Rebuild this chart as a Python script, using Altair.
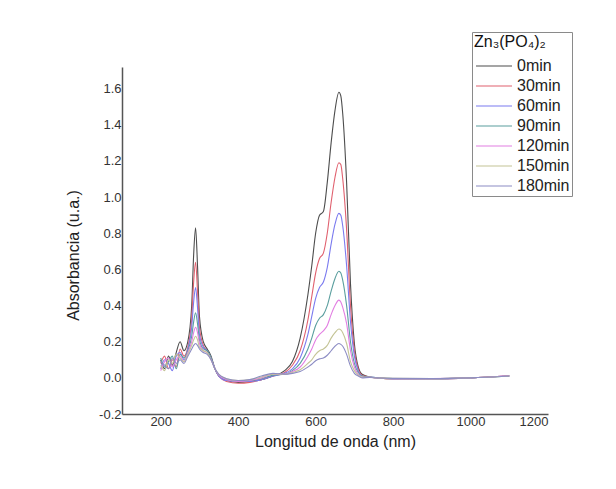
import altair as alt
import pandas as pd

wavelength = [200, 210, 220, 230, 240, 250, 260, 270, 280, 285, 290, 295, 300,
              310, 320, 330, 340, 350, 370, 400, 430, 460, 490,
              520, 540, 560, 580, 590, 600, 610, 620, 630, 640, 650, 660, 665,
              670, 680, 690, 700, 710, 720,
              740, 760, 800, 900, 1000, 1100]

series_names = ["0min", "30min", "60min", "90min", "120min", "150min", "180min"]

abs_0 = [0.10, 0.05, 0.12, 0.07, 0.14, 0.20, 0.15, 0.20, 0.40, 0.68, 0.83, 0.62, 0.34,
         0.20, 0.16, 0.12, 0.05, 0.01, -0.015, -0.025, -0.02, -0.01, 0.01,
         0.04, 0.09, 0.22, 0.46, 0.62, 0.80, 0.90, 0.92, 1.08, 1.30, 1.48, 1.58, 1.56,
         1.46, 1.08, 0.52, 0.19, 0.06, 0.02,
         0.005, 0.0, -0.005, -0.005, 0.0, 0.01]
abs_30 = [0.08, 0.12, 0.05, 0.10, 0.06, 0.16, 0.12, 0.17, 0.33, 0.53, 0.64, 0.48, 0.28,
          0.18, 0.15, 0.11, 0.05, 0.01, -0.02, -0.03, -0.025, -0.01, 0.01,
          0.03, 0.07, 0.15, 0.32, 0.45, 0.58, 0.66, 0.69, 0.80, 0.97, 1.11, 1.19, 1.18,
          1.10, 0.82, 0.40, 0.15, 0.05, 0.015,
          0.005, 0.0, -0.005, -0.005, 0.0, 0.012]
abs_60 = [0.05, 0.10, 0.08, 0.04, 0.12, 0.14, 0.10, 0.16, 0.28, 0.42, 0.50, 0.39, 0.24,
          0.17, 0.15, 0.11, 0.05, 0.01, -0.015, -0.02, -0.02, -0.01, 0.01,
          0.025, 0.05, 0.11, 0.24, 0.34, 0.44, 0.50, 0.53, 0.61, 0.74, 0.85, 0.91, 0.90,
          0.84, 0.62, 0.31, 0.12, 0.04, 0.01,
          0.004, 0.0, -0.004, -0.005, 0.0, 0.01]
abs_90 = [0.11, 0.06, 0.09, 0.12, 0.05, 0.13, 0.11, 0.15, 0.23, 0.31, 0.36, 0.30, 0.21,
          0.16, 0.15, 0.11, 0.05, 0.015, -0.01, -0.02, -0.015, -0.005, 0.015,
          0.02, 0.04, 0.08, 0.16, 0.22, 0.29, 0.33, 0.35, 0.40, 0.48, 0.55, 0.59, 0.58,
          0.54, 0.40, 0.20, 0.08, 0.03, 0.01,
          0.004, 0.0, -0.004, -0.004, 0.0, 0.01]
abs_120 = [0.04, 0.09, 0.11, 0.06, 0.10, 0.12, 0.09, 0.14, 0.20, 0.25, 0.28, 0.25, 0.19,
           0.15, 0.14, 0.10, 0.05, 0.015, -0.01, -0.02, -0.015, 0.0, 0.02,
           0.02, 0.035, 0.06, 0.12, 0.16, 0.21, 0.24, 0.26, 0.29, 0.35, 0.40, 0.43, 0.42,
           0.39, 0.30, 0.15, 0.06, 0.02, 0.005,
           0.003, 0.0, -0.004, -0.004, 0.0, 0.012]
abs_150 = [0.07, 0.04, 0.10, 0.08, 0.13, 0.11, 0.09, 0.13, 0.18, 0.21, 0.23, 0.21, 0.17,
           0.15, 0.14, 0.10, 0.05, 0.02, -0.005, -0.015, -0.01, 0.005, 0.02,
           0.02, 0.03, 0.045, 0.08, 0.10, 0.13, 0.15, 0.16, 0.18, 0.22, 0.25, 0.27, 0.265,
           0.25, 0.19, 0.09, 0.04, 0.015, 0.005,
           0.003, 0.0, -0.003, -0.004, 0.0, 0.01]
abs_180 = [0.09, 0.07, 0.05, 0.11, 0.08, 0.10, 0.08, 0.12, 0.16, 0.18, 0.19, 0.18, 0.16,
           0.14, 0.13, 0.10, 0.05, 0.02, -0.005, -0.015, -0.01, 0.01, 0.025,
           0.02, 0.025, 0.035, 0.06, 0.075, 0.095, 0.105, 0.11, 0.125, 0.15, 0.175, 0.19, 0.185,
           0.175, 0.13, 0.065, 0.025, 0.01, 0.0,
           0.002, 0.0, -0.003, -0.004, 0.0, 0.01]

series_values = [abs_0, abs_30, abs_60, abs_90, abs_120, abs_150, abs_180]
series_colors = ["#4d4d4d", "#e0606e", "#7b7bef", "#5a9e9e", "#e27ee2", "#c4c496", "#8c8cc4"]

x_ticks = [200, 400, 600, 800, 1000, 1200]
y_ticks = [-0.2, 0.0, 0.2, 0.4, 0.6, 0.8, 1.0, 1.2, 1.4, 1.6]

rows = []
for name, vals in zip(series_names, series_values):
    for i, (w, v) in enumerate(zip(wavelength, vals)):
        rows.append({"wl": w, "abs": v, "serie": name, "idx": i})
df = pd.DataFrame(rows)

FONT = "Liberation Sans"

chart = alt.Chart(df).mark_line(strokeWidth=1.1, interpolate="monotone", clip=True).encode(
    x=alt.X("wl:Q",
            scale=alt.Scale(domain=[100, 1200], nice=False, zero=False),
            axis=alt.Axis(title="Longitud de onda (nm)", values=x_ticks, grid=False,
                          format="d",
                          ticks=False, labelPadding=1, labelFontSize=13,
                          labelColor="#333333", titleFontSize=16, titleFontWeight="normal",
                          titleColor="#222222", titleY=27, titleBaseline="middle",
                          domainColor="#555555", domainWidth=1.5, labelFont=FONT,
                          titleFont=FONT, labelOverlap=False)),
    y=alt.Y("abs:Q",
            scale=alt.Scale(domain=[-0.2, 1.72], nice=False, zero=False),
            axis=alt.Axis(title="Absorbancia (u.a.)", values=y_ticks, grid=False,
                          ticks=False, labelPadding=1, labelFontSize=13,
                          labelColor="#333333", titleFontSize=16, titleFontWeight="normal",
                          titleColor="#222222", titleX=-49, titleY=188, titleAngle=270,
                          titleAlign="center", titleBaseline="middle",
                          domainColor="#555555", domainWidth=1.5, labelFont=FONT,
                          titleFont=FONT, labelOverlap=False,
                          labelExpr="replace(format(datum.value, '.1f'), '\u2212', '-')")),
    color=alt.Color("serie:N",
                    scale=alt.Scale(domain=series_names, range=series_colors),
                    sort=series_names,
                    legend=alt.Legend(title="Zn\u2083(PO\u2084)\u2082", orient="none",
                                      legendX=350, legendY=-35,
                                      symbolType="M-1,0H5", symbolSize=144,
                                      symbolStrokeWidth=1.2,
                                      labelFontSize=16, titleFontSize=16,
                                      titleFontWeight="normal", titleColor="#111111",
                                      labelColor="#222222", labelFont=FONT, titleFont=FONT,
                                      strokeColor="#8a8a8a", padding=2, fillColor="white",
                                      rowPadding=4, labelOffset=27, titlePadding=8)),
    order="idx:Q",
).properties(
    width=426,
    height=347,
    autosize=alt.AutoSizeParams(type="none"),
    padding={"left": 114, "top": 59, "right": 60, "bottom": 50},
).configure(background="white").configure_view(stroke=None, strokeWidth=0)

chart.save("out.html", embed_options={"renderer": "svg", "actions": False})
